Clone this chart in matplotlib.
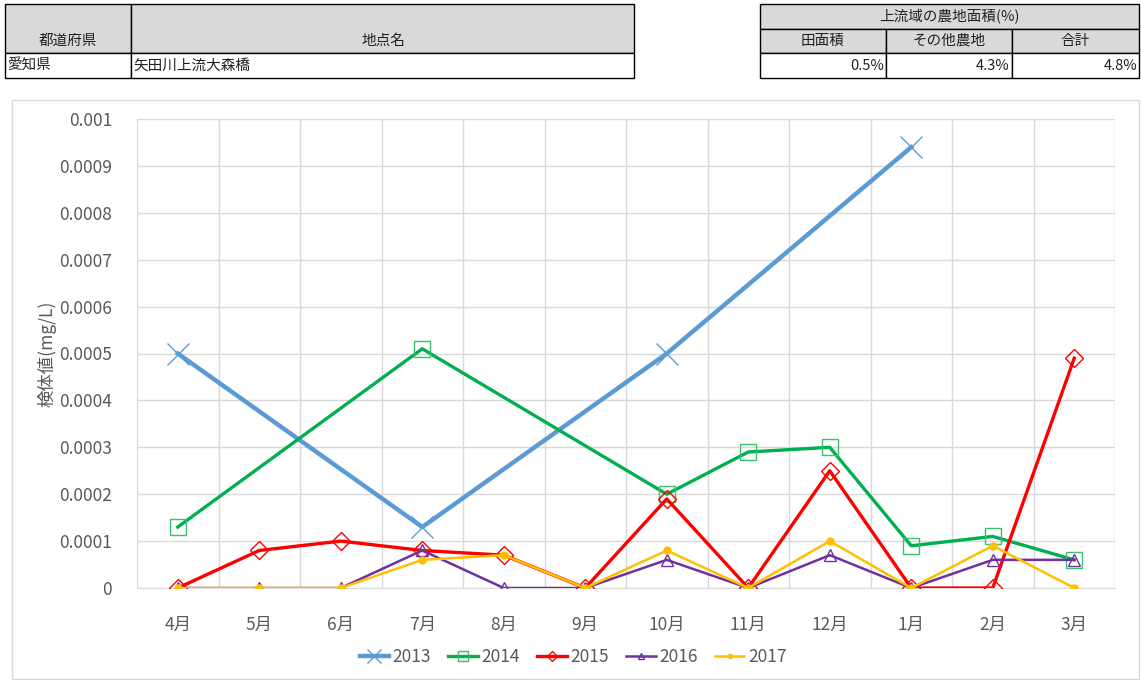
import matplotlib.pyplot as plt
from matplotlib.patches import Rectangle
from matplotlib.ticker import FixedLocator, NullFormatter

plt.rcParams['font.family'] = ['Noto Sans CJK JP', 'DejaVu Sans']

# データ
months = ["4月", "5月", "6月", "7月", "8月", "9月", "10月", "11月", "12月", "1月", "2月", "3月"]
v2013 = [0.0005, None, None, 0.00013, None, None, 0.0005, None, None, 0.00094, None, None]
v2014 = [0.00013, None, None, 0.00051, None, None, 0.0002, 0.00029, 0.0003, 0.00009, 0.00011, 0.00006]
v2015 = [0, 0.00008, 0.0001, 0.00008, 0.00007, 0, 0.00019, 0, 0.00025, 0, 0, 0.00049]
v2016 = [0, 0, 0, 0.00008, 0, 0, 0.00006, 0, 0.00007, 0, 0.00006, 0.00006]
v2017 = [0, 0, 0, 0.00006, 0.00007, 0, 0.00008, 0, 0.0001, 0, 0.00009, 0]

pref = "愛知県"
site = "矢田川上流大森橋"
area_head = "上流域の農地面積(%)"
area_cols = ["田面積", "その他農地", "合計"]
area_vals = ["0.5%", "4.3%", "4.8%"]

W, H = 1141, 680
fig = plt.figure(figsize=(W / 100, H / 100), dpi=100)


def px(x, y):
    return x / W, 1 - y / H


def cell(x0, y0, x1, y1, fill='white', lw=1.0):
    fx, fy = px(x0, y1)
    fig.patches.append(Rectangle((fx, fy), (x1 - x0) / W, (y1 - y0) / H,
                                 transform=fig.transFigure, facecolor=fill,
                                 edgecolor='black', linewidth=lw))


def ftext(x, y, s, ha='center', size=10.5):
    fx, fy = px(x, y)
    fig.text(fx, fy, s, ha=ha, va='center', fontsize=size, color='#222222')


gray = '#d9d9d9'
# 左の表
cell(5, 4, 131, 53, gray)
cell(131, 4, 634, 53, gray)
cell(5, 53, 131, 78)
cell(131, 53, 634, 78)
ftext(68, 41, "都道府県")
ftext(383, 41, "地点名")
ftext(7, 66, pref, ha='left')
ftext(133, 66, site, ha='left')

# 右の表
cell(760, 4, 1139, 29, gray)
xs = [760, 886, 1012, 1139]
for i in range(3):
    cell(xs[i], 29, xs[i + 1], 53, gray)
    cell(xs[i], 53, xs[i + 1], 78)
    ftext((xs[i] + xs[i + 1]) / 2, 41, area_cols[i])
    ftext(xs[i + 1] - 2, 66, area_vals[i], ha='right')
ftext(950, 16, area_head)

# グラフの枠
fx, fy = px(12, 679)
fig.patches.append(Rectangle((fx, fy), 1127 / W, 579 / H, transform=fig.transFigure,
                             facecolor='white', edgecolor='#d9d9d9', linewidth=1,
                             zorder=-5))

ax = fig.add_axes([137 / W, 1 - 588 / H, 978 / W, 469 / H])
ax.set_facecolor('none')
x = list(range(len(months)))


def plot_series(vals, **kw):
    xx = [i for i, v in zip(x, vals) if v is not None]
    yy = [v for v in vals if v is not None]
    ax.plot(xx, yy, **kw)


plot_series(v2013, color='#5b9bd5', lw=3.2, marker='x', ms=16, mew=1,
            mec='#5b9bd5', label='2013', zorder=3)
plot_series(v2014, color='#00b050', lw=2.4, marker='s', ms=12, mew=1,
            mfc='none', mec='#3cc06e', label='2014', zorder=4)
plot_series(v2015, color='#ff0000', lw=2.4, marker='D', ms=9, mew=1,
            mfc='none', mec='#ff0000', label='2015', zorder=5)
plot_series(v2016, color='#7030a0', lw=1.8, marker='^', ms=8, mew=1,
            mfc='none', mec='#7030a0', label='2016', zorder=6)
plot_series(v2017, color='#ffc000', lw=1.8, marker='o', ms=5,
            mfc='#ffc000', mec='#ffc000', label='2017', zorder=7)

ax.set_xlim(-0.5, len(months) - 0.5)
ax.set_ylim(0, 0.001)
ax.set_yticks([i * 0.0001 for i in range(11)])
ax.set_yticklabels(['0'] + ['%g' % round(i * 0.0001, 4) for i in range(1, 11)])
ax.set_xticks(x)
ax.set_xticklabels(months)
ax.xaxis.set_minor_locator(FixedLocator([i + 0.5 for i in range(-1, len(months))]))
ax.xaxis.set_minor_formatter(NullFormatter())
ax.grid(True, which='major', axis='y', color='#d9d9d9', lw=1)
ax.grid(True, which='minor', axis='x', color='#d9d9d9', lw=1)
ax.tick_params(axis='both', which='both', length=0, colors='#595959', labelsize=12.5)
ax.tick_params(axis='x', pad=20)
ax.tick_params(axis='y', pad=18)
for s in ['top', 'right', 'left']:
    ax.spines[s].set_visible(False)
ax.spines['bottom'].set_color('#d9d9d9')
ax.set_ylabel("検体値(mg/L)", color='#595959', fontsize=12.5, labelpad=2)
ax.set_axisbelow(True)

fig.legend(loc='center', bbox_to_anchor=(573 / W, 1 - 657 / H), ncol=5, frameon=False,
           fontsize=12.5, handlelength=1.7, columnspacing=1.0, handletextpad=0.2,
           labelcolor='#595959', markerscale=0.6)

fig.savefig('out.png', dpi=100)
